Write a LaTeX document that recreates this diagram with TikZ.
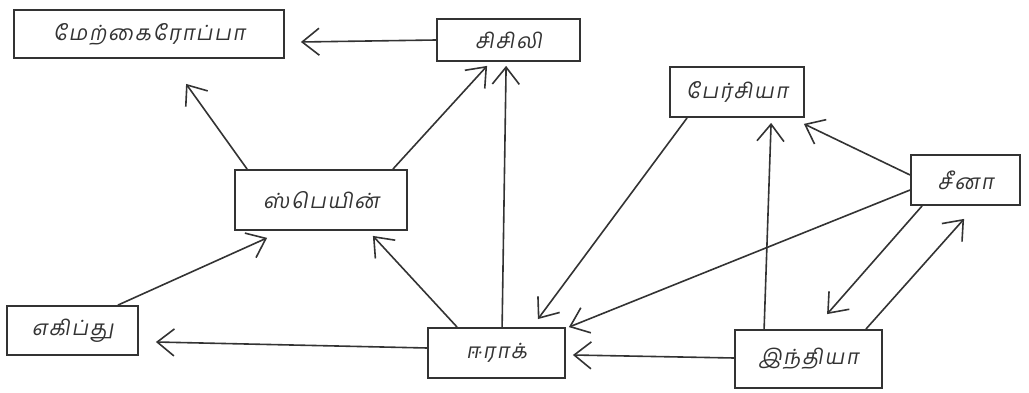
\documentclass[tikz,border=0pt]{standalone}
\usepackage{fontspec}
\newfontfamily\tamil[Script=Tamil,FakeSlant=0.18,LetterSpace=8]{Hind Madurai}
\usetikzlibrary{arrows.meta,calc}
\definecolor{ink}{HTML}{333333}
\tikzset{
  box/.style={draw=ink, line width=1.8pt, rectangle, inner sep=0pt, font=\tamil\fontsize{21}{24}\selectfont, text=ink},
  conn/.style={draw=ink, line width=1.6pt, -{Straight Barb[length=17pt,width=27pt]}}
}
\begin{document}
\begin{tikzpicture}[x=1pt,y=-1pt]
\useasboundingbox (0,0) rectangle (1029,393);
\node[box, minimum width=270pt, minimum height=48pt] (A) at (149,34) {மேற்கைரோப்பா};
\node[box, minimum width=143pt, minimum height=42pt] (B) at (508.5,40) {சிசிலி};
\node[box, minimum width=134pt, minimum height=50pt] (C) at (737,92) {பேர்சியா};
\node[box, minimum width=109pt, minimum height=50pt] (D) at (965.5,180) {சீனா};
\node[box, minimum width=172pt, minimum height=60pt] (E) at (321,200) {ஸ்பெயின்};
\node[box, minimum width=131pt, minimum height=49pt] (F) at (72.5,330.5) {எகிப்து};
\node[box, minimum width=137pt, minimum height=50pt] (G) at (496.5,353) {ஈராக்};
\node[box, minimum width=147pt, minimum height=58pt] (H) at (808.5,359) {இந்தியா};
% connectors
\draw[conn] (B.west) -- ($(A.east)+(16,8)$);
\draw[conn] ($(E.north west)+(13,0)$) -- ($(A.south west)+(173,25)$);
\draw[conn] ($(E.north east)+(-15,0)$) -- ($(B.south west)+(51,4)$);
\draw[conn] ($(G.north west)+(75,0)$) -- ($(B.south west)+(70,4)$);
\draw[conn] ($(G.north west)+(30,0)$) -- ($(E.south east)+(-35,5)$);
\draw[conn] ($(F.north east)+(-21,0)$) -- ($(E.south west)+(33,7)$);
\draw[conn] ($(G.west)+(0,-5)$) -- ($(F.east)+(17,11.5)$);
\draw[conn] ($(C.south west)+(18,0)$) -- ($(G.north east)+(-28,-8)$);
\draw[conn] ($(D.west)+(0,10)$) -- ($(G.north east)+(3,0)$);
\draw[conn] ($(H.west)+(0,-1)$) -- ($(G.east)+(7,2)$);
\draw[conn] ($(H.north west)+(30,0)$) -- ($(C.south west)+(102,5)$);
\draw[conn] ($(D.west)+(0,-5)$) -- ($(C.south east)+(-1,6)$);
\draw[conn] ($(D.south west)+(12,0)$) -- ($(H.north west)+(93,-15)$);
\draw[conn] ($(H.north east)+(-17,0)$) -- ($(D.south west)+(54,13)$);
\end{tikzpicture}
\end{document}
